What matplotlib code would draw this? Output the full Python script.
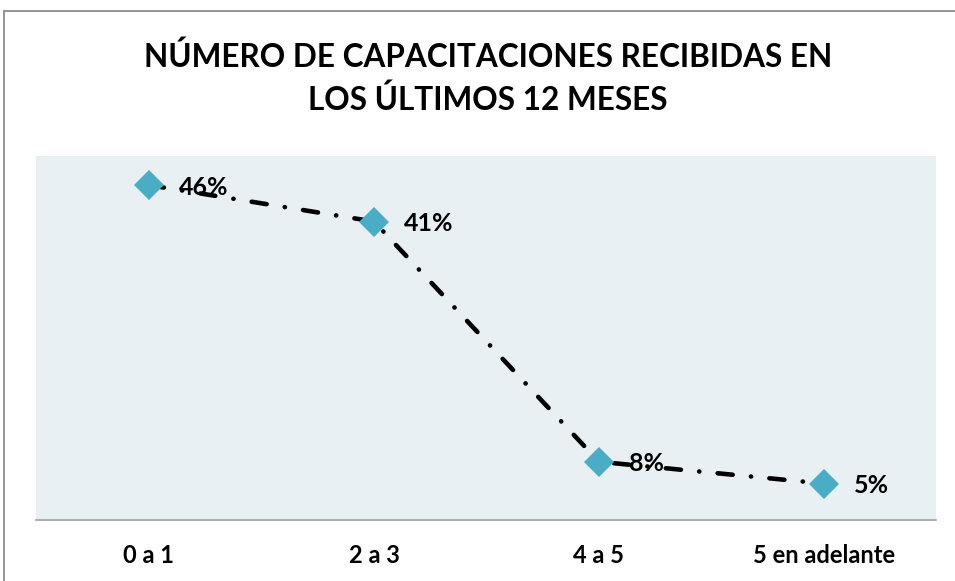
import matplotlib.pyplot as plt
import numpy as np
from matplotlib.patches import Rectangle

plt.rcParams['font.family'] = ['Lato', 'DejaVu Sans']
plt.rcParams['font.weight'] = 'bold'

categorias = ['0 a 1', '2 a 3', '4 a 5', '5 en adelante']
porcentajes = [46, 41, 8, 5]
etiquetas = ['46%', '41%', '8%', '5%']
titulo = 'NÚMERO DE CAPACITACIONES RECIBIDAS EN\nLOS ÚLTIMOS 12 MESES'

fig = plt.figure(figsize=(9.55, 5.81), dpi=100)
ax = fig.add_axes([0.0382, 0.105, 0.9424, 0.6265])
ax.set_facecolor('#E9F0F3')

x = np.arange(len(categorias))
ax.set_xlim(-0.5, len(categorias) - 0.5)
ax.set_ylim(0, 50)

# long dash-dot line
linea, = ax.plot(x, porcentajes, color='black', lw=3.3, zorder=3,
                 dash_capstyle='round', solid_capstyle='round')
linea.set_dashes((3.3, 4.0, 0.05, 4.0))

ax.plot(x, porcentajes, linestyle='none', marker='D', markersize=15,
        color='#4BACC6', markeredgewidth=0, zorder=4)

for xi, yi, t in zip(x, porcentajes, etiquetas):
    ax.annotate(t, (xi, yi), xytext=(30, -2), textcoords='offset pixels',
                ha='left', va='center', fontsize=18, fontweight='bold',
                color='black', zorder=2)

ax.set_xticks(x)
ax.set_xticklabels(categorias, fontsize=17, fontweight='bold')
ax.tick_params(axis='x', length=0, pad=17)
ax.set_yticks([])
for s in ['top', 'left', 'right']:
    ax.spines[s].set_visible(False)
ax.spines['bottom'].set_color('#A0A0A0')
ax.spines['bottom'].set_linewidth(1.2)

fig.text(0.511, 0.865, titulo, ha='center', va='center', fontsize=22.7,
         fontweight='bold', linespacing=1.5)

# outer chart border
fig.patches.append(Rectangle((4 / 955, -0.2), 1.2, 1.2 - 11 / 581,
                             transform=fig.transFigure, fill=False,
                             edgecolor='#8C8C8C', lw=1.3))

fig.savefig('out.png', dpi=100)
